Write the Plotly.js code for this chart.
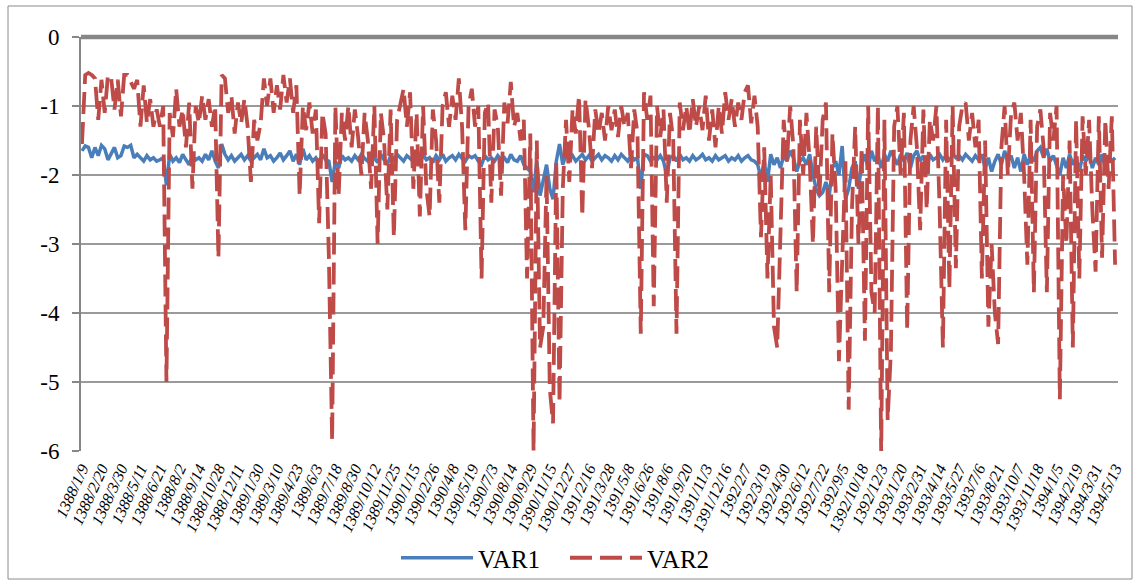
<!DOCTYPE html>
<html>
<head>
<meta charset="utf-8">
<script src="https://cdn.plot.ly/plotly-3.0.1.min.js"></script>
<style>
html,body{margin:0;padding:0;background:#fff;}
#chart{width:1134px;height:581px;}
</style>
</head>
<body>
<div id="chart"></div>
<script>
// Tick labels (Persian calendar dates shown on the category axis)
const tickLabels = [
"1388/1/9","1388/2/20","1388/3/30","1388/5/11","1388/6/21","1388/8/2","1388/9/14","1388/10/28","1388/12/11",
"1389/1/30","1389/3/10","1389/4/23","1389/6/3","1389/7/18","1389/8/30","1389/10/12","1389/11/25",
"1390/1/15","1390/2/26","1390/4/8","1390/5/19","1390/7/3","1390/8/14","1390/9/29","1390/11/15","1390/12/27",
"1391/2/16","1391/3/28","1391/5/8","1391/6/26","1391/8/6","1391/9/20","1391/11/3","1391/12/16",
"1392/2/7","1392/3/19","1392/4/30","1392/6/12","1392/7/22","1392/9/5","1392/10/18","1392/12/3",
"1393/1/20","1393/2/31","1393/4/14","1393/5/27","1393/7/6","1393/8/21","1393/10/7","1393/11/18",
"1394/1/5","1394/2/19","1394/3/31","1394/5/13"
];

// value-axis ticks
const yTickVals = [0, -1, -2, -3, -4, -5, -6];
const yTickText = ["0", "-1", "-2", "-3", "-4", "-5", "-6"];

// number of sampled observations between two consecutive labels
const POINTS_PER_LABEL = 6;

const var1 = [
-1.65,-1.58,-1.6,-1.75,-1.6,-1.72,
-1.57,-1.62,-1.78,-1.7,-1.6,-1.75,
-1.72,-1.58,-1.6,-1.57,-1.75,-1.7,
-1.75,-1.8,-1.72,-1.78,-1.75,-1.8,
-1.78,-1.75,-2.15,-1.7,-1.8,-1.75,
-1.82,-1.7,-1.78,-1.85,-1.72,-1.78,
-1.75,-1.8,-1.7,-1.78,-1.65,-1.8,
-1.9,-1.55,-1.7,-1.78,-1.72,-1.8,
-1.75,-1.7,-1.78,-1.72,-1.8,-1.75,
-1.7,-1.78,-1.62,-1.75,-1.72,-1.8,
-1.75,-1.68,-1.78,-1.72,-1.65,-1.8,
-1.7,-1.85,-1.62,-1.78,-1.72,-1.8,
-1.75,-1.82,-1.7,-1.78,-1.8,-2.1,
-1.8,-1.9,-1.72,-1.78,-1.75,-1.8,
-1.72,-1.78,-1.7,-1.76,-1.8,-1.72,
-1.75,-1.82,-1.7,-1.78,-1.85,-1.72,
-1.78,-1.7,-1.75,-1.8,-1.72,-1.76,
-1.8,-1.72,-1.85,-1.7,-1.78,-1.75,
-1.82,-1.72,-1.78,-1.7,-1.8,-1.75,
-1.72,-1.78,-1.7,-1.76,-1.8,-1.72,
-1.75,-1.72,-1.8,-1.85,-1.72,-1.78,
-1.75,-1.8,-1.72,-1.78,-1.75,-1.82,
-1.7,-1.78,-1.8,-1.72,-1.85,-1.9,
-1.95,-2.25,-1.8,-2.3,-2.1,-1.85,
-2.2,-2.35,-1.8,-1.55,-1.85,-1.7,
-1.78,-1.72,-1.8,-1.75,-1.7,-1.78,
-1.72,-1.8,-1.75,-1.7,-1.78,-1.72,
-1.75,-1.8,-1.72,-1.78,-1.7,-1.75,
-1.8,-1.72,-1.78,-1.75,-2.2,-1.7,
-1.72,-1.8,-1.75,-1.78,-1.72,-1.8,
-2.0,-1.75,-1.72,-1.8,-1.7,-1.78,
-1.75,-1.8,-1.72,-1.78,-1.75,-1.7,
-1.78,-1.75,-1.8,-1.72,-1.78,-1.75,
-1.72,-1.8,-1.75,-1.78,-1.72,-1.8,
-1.75,-1.72,-1.78,-1.8,-1.85,-2.05,
-1.8,-2.1,-1.7,-1.85,-1.75,-1.9,
-1.72,-1.8,-1.65,-1.75,-1.95,-1.8,
-1.75,-1.85,-1.7,-2.0,-2.2,-2.3,
-2.25,-2.1,-2.3,-1.9,-1.8,-2.0,
-1.58,-2.35,-2.2,-1.9,-1.8,-2.2,
-1.85,-1.7,-1.9,-1.65,-1.8,-1.72,
-1.9,-1.7,-1.8,-1.65,-1.75,-1.85,
-1.7,-1.8,-1.68,-1.9,-1.72,-1.65,
-1.8,-1.72,-1.9,-1.7,-1.78,-1.75,
-1.7,-1.78,-1.72,-1.8,-1.7,-1.75,
-1.72,-1.78,-1.7,-1.75,-1.8,-1.72,
-1.78,-1.7,-1.9,-1.75,-1.95,-1.8,
-1.7,-1.85,-1.65,-1.8,-1.72,-1.9,
-1.75,-1.95,-1.7,-1.85,-1.72,-1.8,
-1.65,-1.6,-1.75,-1.62,-1.8,-1.72,
-1.85,-2.0,-1.75,-1.9,-1.7,-1.85,
-1.75,-1.95,-1.72,-1.8,-1.7,-1.9,
-1.75,-1.85,-1.7,-1.9,-1.72,-1.8,
-1.75
];

const var2 = [
-1.55,-0.55,-0.52,-0.55,-0.6,-1.2,
-0.62,-1.1,-0.55,-0.6,-1.05,-0.62,
-1.15,-0.55,-0.55,-0.65,-0.75,-0.62,
-1.3,-0.7,-1.25,-0.9,-1.3,-1.05,
-1.3,-1.0,-5.0,-1.1,-1.45,-0.75,
-1.3,-1.05,-1.6,-0.95,-2.2,-1.0,
-1.25,-0.85,-1.2,-0.9,-1.3,-1.0,
-3.2,-0.55,-0.6,-1.1,-0.85,-1.4,
-0.95,-1.25,-0.9,-1.3,-2.1,-1.2,
-1.5,-1.25,-0.6,-1.0,-0.6,-1.1,
-0.7,-1.05,-0.55,-0.95,-0.6,-1.1,
-0.7,-2.3,-1.0,-1.35,-0.95,-1.4,
-1.05,-2.7,-1.1,-1.4,-3.2,-5.85,
-1.0,-2.3,-1.1,-1.5,-1.0,-1.6,
-1.05,-1.45,-2.0,-1.1,-1.5,-2.2,
-1.0,-3.0,-1.1,-1.5,-2.5,-1.05,
-2.9,-1.2,-0.95,-0.75,-1.3,-0.8,
-2.2,-1.1,-2.6,-1.0,-2.2,-2.6,
-1.05,-1.5,-2.4,-1.0,-0.8,-1.3,
-0.85,-1.2,-0.6,-1.3,-2.8,-1.0,
-0.75,-1.3,-1.0,-3.5,-1.1,-0.95,
-2.4,-1.05,-1.3,-2.3,-0.95,-1.25,
-0.65,-1.3,-1.1,-1.5,-1.2,-3.5,
-1.4,-6.0,-1.5,-4.5,-4.2,-2.0,
-5.1,-5.6,-1.8,-5.3,-2.2,-1.2,
-2.1,-1.05,-1.4,-0.85,-2.6,-0.9,
-1.3,-1.9,-1.05,-1.4,-1.1,-1.5,
-1.0,-1.35,-1.05,-1.45,-1.0,-1.3,
-1.1,-1.9,-1.05,-1.4,-4.3,-0.8,
-1.2,-0.85,-3.9,-1.0,-1.45,-1.05,
-2.4,-1.1,-1.5,-4.3,-0.95,-1.35,
-1.0,-1.4,-0.9,-1.3,-1.0,-1.35,
-0.85,-1.5,-1.05,-1.6,-1.0,-1.4,
-0.8,-1.2,-0.9,-1.3,-0.95,-1.2,
-0.8,-0.7,-1.25,-0.85,-1.3,-2.9,
-1.6,-3.5,-2.0,-4.2,-4.5,-3.0,
-1.2,-1.8,-1.0,-1.6,-3.7,-1.2,
-2.0,-1.1,-1.8,-3.0,-1.3,-2.3,
-1.2,-0.95,-3.7,-1.4,-2.2,-4.7,
-3.4,-1.8,-5.4,-2.5,-1.3,-3.0,
-1.6,-4.4,-1.0,-3.7,-4.0,-1.0,
-6.05,-1.2,-5.55,-4.55,-1.3,-1.0,
-2.0,-1.1,-4.25,-1.5,-1.0,-1.6,
-2.8,-1.05,-2.5,-1.2,-1.5,-1.0,
-2.5,-4.5,-1.2,-3.65,-1.0,-3.35,
-1.3,-1.0,-0.95,-1.5,-1.1,-1.6,
-1.2,-3.5,-1.5,-4.2,-3.0,-4.0,
-4.45,-1.6,-1.0,-2.0,-1.1,-0.95,
-1.5,-1.1,-2.0,-3.3,-1.2,-3.7,
-1.3,-1.05,-1.6,-3.7,-1.1,-1.5,
-1.0,-5.25,-2.0,-3.0,-1.5,-4.5,
-1.2,-3.5,-1.15,-2.0,-1.2,-2.5,
-3.4,-1.15,-3.2,-1.2,-2.2,-1.15,
-3.3
];

const seriesNames = ["VAR1", "VAR2"];

const xs1 = var1.map((v, i) => i / POINTS_PER_LABEL);
const xs2 = var2.map((v, i) => i / POINTS_PER_LABEL);
const tickVals = tickLabels.map((t, i) => i);

const serif = "Times New Roman, Liberation Serif, serif";

const traces = [
  {
    x: xs1, y: var1, name: seriesNames[0], type: "scatter", mode: "lines",
    line: {color: "#4A7EBB", width: 3.5}
  },
  {
    x: xs2, y: var2, name: seriesNames[1], type: "scatter", mode: "lines",
    line: {color: "#BE4B48", width: 3.8, dash: "22px,8px"}
  }
];

// plot area geometry (px) to place the outer frame
const L = 81, R = 1118, T = 37, B = 451;
const W = R - L, H = B - T;

const layout = {
  width: 1134, height: 581,
  margin: {l: L, r: 1134 - R, t: T, b: 581 - B, pad: 0, autoexpand: false},
  paper_bgcolor: "#ffffff",
  plot_bgcolor: "#ffffff",
  font: {family: serif, color: "#000"},
  showlegend: true,
  legend: {
    orientation: "h",
    x: (396 - L) / W, xanchor: "left",
    y: (B - 558) / H, yanchor: "middle",
    font: {family: serif, size: 25, color: "#000"},
    itemwidth: 72,
    entrywidth: 82,
    bgcolor: "rgba(0,0,0,0)"
  },
  xaxis: {
    type: "linear",
    range: [-0.05, 53.15],
    tickvals: tickVals,
    ticktext: tickLabels,
    tickangle: -65,
    tickfont: {family: serif, size: 16, color: "#000", style: "italic"},
    showgrid: false,
    zeroline: false,
    showline: false,
    ticks: "",
    ticklabelstandoff: 4,
    automargin: false,
    fixedrange: true
  },
  yaxis: {
    range: [-6, 0],
    tickvals: yTickVals,
    ticktext: yTickText,
    showgrid: true,
    gridcolor: "#9a9a9a",
    gridwidth: 1.5,
    zeroline: false,
    showline: true,
    linecolor: "#878787",
    linewidth: 2,
    ticks: "outside",
    ticklen: 7,
    tickwidth: 1.5,
    tickcolor: "#878787",
    tickfont: {family: serif, size: 23, color: "#000"},
    ticklabelstandoff: 8,
    automargin: false,
    fixedrange: true
  },
  shapes: [
    // outer chart frame
    {type: "rect", xref: "paper", yref: "paper",
     x0: (8 - L) / W, x1: (1132 - L) / W, y0: (B - 579) / H, y1: (B - 6) / H,
     line: {color: "#8a8a8a", width: 1}, fillcolor: "rgba(0,0,0,0)", layer: "below"},
    // horizontal axis crossing at zero (drawn at the top)
    {type: "line", xref: "paper", yref: "paper",
     x0: 0, x1: 1, y0: 1, y1: 1,
     line: {color: "#878787", width: 4.5}, layer: "above"}
  ]
};

Plotly.newPlot("chart", traces, layout, {displayModeBar: false, staticPlot: true});
</script>
</body>
</html>
